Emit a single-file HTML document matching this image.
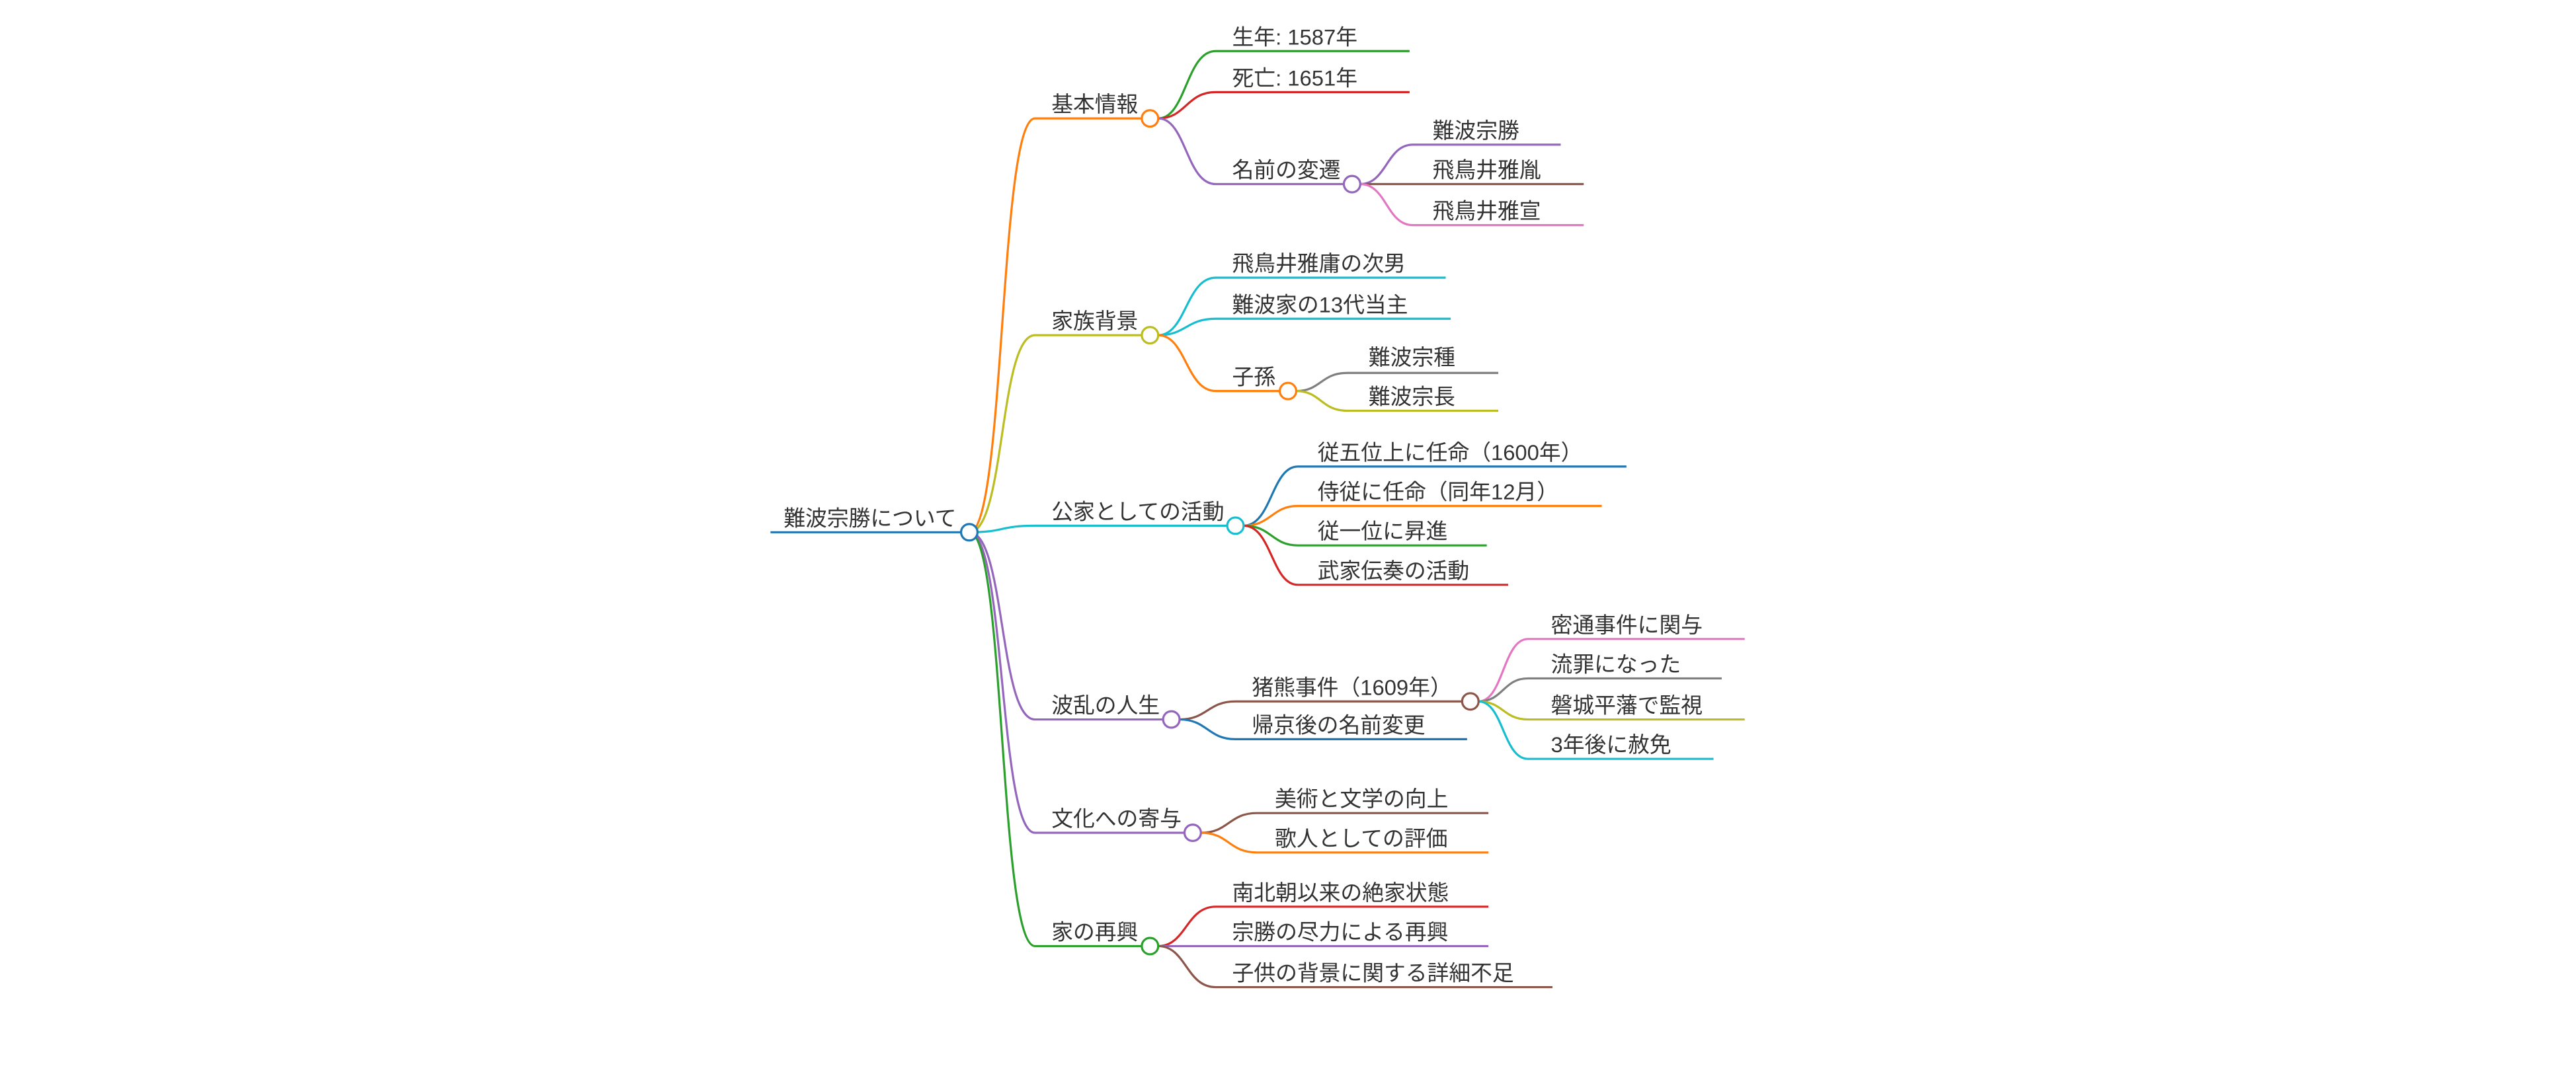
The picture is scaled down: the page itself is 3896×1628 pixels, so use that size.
<!DOCTYPE html>
<html><head><meta charset="utf-8"><style>
html,body{margin:0;padding:0;background:#fff;}
svg{display:block;}
text{font-family:"Liberation Sans","Noto Sans CJK JP",sans-serif;font-size:13.2px;fill:#333;}
path{fill:none;stroke-width:1.3;}
circle{fill:#fff;stroke-width:1.3;}
</style></head><body>
<svg width="3896" height="1628" viewBox="0 0 1568 655" xmlns="http://www.w3.org/2000/svg">
<!-- root -->
<path d="M469 324 L586 324" stroke="#1f77b4"/>
<text x="477" y="320">難波宗勝について</text>

<!-- level1 curves -->
<path d="M590 324 C612 324,608 72,630 72 L695 72" stroke="#ff7f0e"/>
<path d="M590 324 C612 324,608 204,630 204 L695 204" stroke="#bcbd22"/>
<path d="M590 324 C612 324,608 320,630 320 L747 320" stroke="#17becf"/>
<path d="M590 324 C612 324,608 438,630 438 L708 438" stroke="#9467bd"/>
<path d="M590 324 C612 324,608 507,630 507 L721 507" stroke="#9467bd"/>
<path d="M590 324 C612 324,608 576,630 576 L695 576" stroke="#2ca02c"/>
<text x="640" y="68">基本情報</text>
<text x="640" y="200">家族背景</text>
<text x="640" y="316">公家としての活動</text>
<text x="640" y="434">波乱の人生</text>
<text x="640" y="503">文化への寄与</text>
<text x="640" y="572">家の再興</text>

<!-- 基本情報 children -->
<path d="M705 72 C722 72,722 31,740 31 L858 31" stroke="#2ca02c"/>
<path d="M705 72 C722 72,722 56,740 56 L858 56" stroke="#d62728"/>
<path d="M705 72 C722 72,722 112,740 112 L818 112" stroke="#9467bd"/>
<text x="750" y="27">生年: 1587年</text>
<text x="750" y="52">死亡: 1651年</text>
<text x="750" y="108">名前の変遷</text>
<path d="M828 112 C844 112,844 88,860 88 L950 88" stroke="#9467bd"/>
<path d="M828 112 C844 112,844 112,860 112 L964 112" stroke="#8c564b"/>
<path d="M828 112 C844 112,844 137,860 137 L964 137" stroke="#e377c2"/>
<text x="872" y="84">難波宗勝</text>
<text x="872" y="108">飛鳥井雅胤</text>
<text x="872" y="133">飛鳥井雅宣</text>
<circle cx="823" cy="112" r="5" stroke="#9467bd"/>

<!-- 家族背景 children -->
<path d="M705 204 C722 204,722 169,740 169 L880 169" stroke="#17becf"/>
<path d="M705 204 C722 204,722 194,740 194 L883 194" stroke="#17becf"/>
<path d="M705 204 C722 204,722 238,740 238 L779 238" stroke="#ff7f0e"/>
<text x="750" y="165">飛鳥井雅庸の次男</text>
<text x="750" y="190">難波家の13代当主</text>
<text x="750" y="234">子孫</text>
<path d="M789 238 C804 238,804 227,820 227 L912 227" stroke="#7f7f7f"/>
<path d="M789 238 C804 238,804 250,820 250 L912 250" stroke="#bcbd22"/>
<text x="833" y="222">難波宗種</text>
<text x="833" y="246">難波宗長</text>
<circle cx="784" cy="238" r="5" stroke="#ff7f0e"/>

<!-- 公家 children -->
<path d="M757 320 C774 320,774 284,790 284 L990 284" stroke="#1f77b4"/>
<path d="M757 320 C774 320,774 308,790 308 L975 308" stroke="#ff7f0e"/>
<path d="M757 320 C774 320,774 332,790 332 L905 332" stroke="#2ca02c"/>
<path d="M757 320 C774 320,774 356,790 356 L918 356" stroke="#d62728"/>
<text x="802" y="280">従五位上に任命（1600年）</text>
<text x="802" y="304">侍従に任命（同年12月）</text>
<text x="802" y="328">従一位に昇進</text>
<text x="802" y="352">武家伝奏の活動</text>

<!-- 波乱 children -->
<path d="M718 438 C735 438,735 427,752 427 L890 427" stroke="#8c564b"/>
<path d="M718 438 C735 438,735 450,752 450 L893 450" stroke="#1f77b4"/>
<text x="762" y="423">猪熊事件（1609年）</text>
<text x="762" y="446">帰京後の名前変更</text>
<path d="M900 427 C915 427,915 389,930 389 L1062 389" stroke="#e377c2"/>
<path d="M900 427 C915 427,915 413,930 413 L1048 413" stroke="#7f7f7f"/>
<path d="M900 427 C915 427,915 438,930 438 L1062 438" stroke="#bcbd22"/>
<path d="M900 427 C915 427,915 462,930 462 L1043 462" stroke="#17becf"/>
<text x="944" y="385">密通事件に関与</text>
<text x="944" y="409">流罪になった</text>
<text x="944" y="434">磐城平藩で監視</text>
<text x="944" y="458">3年後に赦免</text>
<circle cx="895" cy="427" r="5" stroke="#8c564b"/>

<!-- 文化 children -->
<path d="M731 507 C748 507,748 495,765 495 L906 495" stroke="#8c564b"/>
<path d="M731 507 C748 507,748 519,765 519 L906 519" stroke="#ff7f0e"/>
<text x="776" y="491">美術と文学の向上</text>
<text x="776" y="515">歌人としての評価</text>

<!-- 家の再興 children -->
<path d="M705 576 C722 576,722 552,740 552 L906 552" stroke="#d62728"/>
<path d="M705 576 C722 576,722 576,740 576 L906 576" stroke="#9467bd"/>
<path d="M705 576 C722 576,722 601,740 601 L945 601" stroke="#8c564b"/>
<text x="750" y="548">南北朝以来の絶家状態</text>
<text x="750" y="572">宗勝の尽力による再興</text>
<text x="750" y="597">子供の背景に関する詳細不足</text>

<!-- circles -->
<circle cx="700" cy="72" r="5" stroke="#ff7f0e"/>
<circle cx="700" cy="204" r="5" stroke="#bcbd22"/>
<circle cx="752" cy="320" r="5" stroke="#17becf"/>
<circle cx="713" cy="438" r="5" stroke="#9467bd"/>
<circle cx="726" cy="507" r="5" stroke="#9467bd"/>
<circle cx="700" cy="576" r="5" stroke="#2ca02c"/>
<circle cx="590" cy="324" r="5" stroke="#1f77b4"/>
</svg>
</body></html>
